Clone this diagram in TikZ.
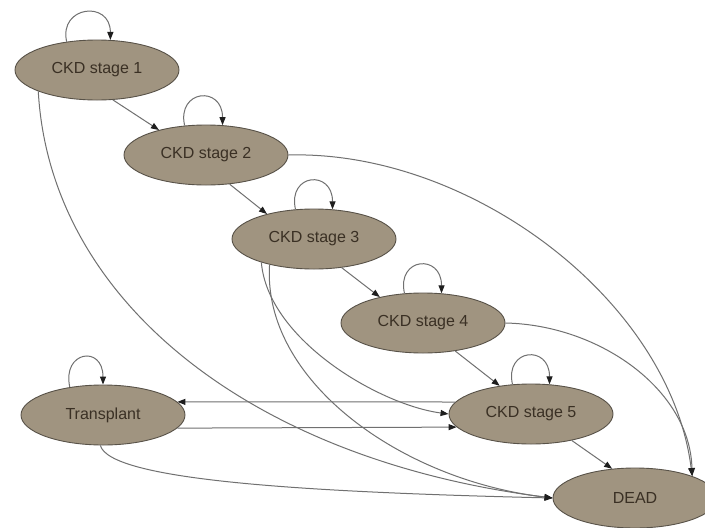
\documentclass[tikz,border=0pt]{standalone}
\usepackage{fontspec}
\setmainfont{Liberation Sans}
\usetikzlibrary{shapes.geometric,arrows.meta}
\definecolor{nodefill}{RGB}{160,148,128}
\definecolor{nodeline}{RGB}{88,82,72}
\definecolor{nodetext}{RGB}{58,48,36}
\definecolor{edgeline}{RGB}{112,112,112}
\definecolor{tipcol}{RGB}{30,30,30}

\begin{document}
\begin{tikzpicture}[x=1pt,y=-1pt,
  state/.style={ellipse, draw=nodeline, fill=nodefill, line width=0.9pt,
    minimum width=164pt, minimum height=60pt, inner sep=0pt,
    text=nodetext, font=\fontsize{16}{18}\selectfont},
  edge/.style={draw=edgeline, line width=1pt,
    -{Triangle[length=8pt,width=6pt,color=tipcol]}},
]
\useasboundingbox (0,0) rectangle (705,528);
\clip (0,0) rectangle (705,528);
\fill[white] (0,0) rectangle (705,528);

% states
\node[state] (S1) at (97,70)   {CKD stage 1};
\node[state] (S2) at (206,155) {CKD stage 2};
\node[state] (S3) at (314,239) {CKD stage 3};
\node[state] (S4) at (423,323) {CKD stage 4};
\node[state] (S5) at (531,414) {CKD stage 5};
\node[state] (T)  at (103,415) {Transplant};
\node[state] (D)  at (635,498) {DEAD};

% staying in the same state
\draw[edge] (S1.137) .. controls +(-8,-36) and +(0,-40) .. (S1.66);
\draw[edge] (S2.126) .. controls +(-8,-36) and +(0,-40) .. (S2.61);
\draw[edge] (S3.122) .. controls +(-8,-36) and +(0,-40) .. (S3.58);
\draw[edge] (S4.122) .. controls +(-8,-36) and +(0,-40) .. (S4.58);
\draw[edge] (S5.122) .. controls +(-8,-36) and +(0,-40) .. (S5.58);
\draw[edge] (T.140)  .. controls +(-8,-36) and +(0,-40) .. (T.90);

% progression between stages
\draw[edge] (S1.-62) -- (S2.152);
\draw[edge] (S2.-51) -- (S3.152);
\draw[edge] (S3.-46) -- (S4.149);
\draw[edge] (S4.-41) -- (S5.138);
\draw[edge] (S5.-33) -- (D.128);

% transplant exchanges
\draw[edge] (S5.171) -- (T.10);
\draw[edge] (T.-10) -- (S5.-170);

% skipping to stage 5
\draw[edge] (S3.-156) .. controls (268,340) and (380,405) .. (S5.west);

% transitions to death
\draw[edge] (S1.-160) .. controls (50,300) and (250,460) .. (D.west);
\draw[edge] (S3.-150) .. controls (262,380) and (400,480) .. (D.west);
\draw[edge] (T.-95) .. controls (110,480) and (300,492) .. (D.west);
\draw[edge] (S2.east) .. controls (470,150) and (670,300) .. (D.21);
\draw[edge] (S4.east) .. controls (600,325) and (690,390) .. (D.21);
\end{tikzpicture}
\end{document}
